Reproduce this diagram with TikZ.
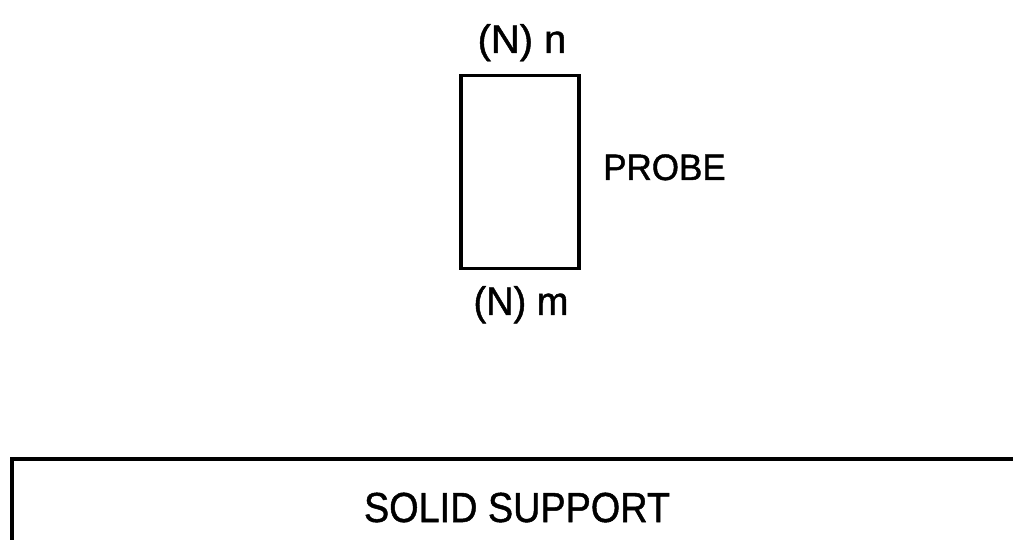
\documentclass[tikz,border=0pt]{standalone}
\usepackage{fontspec}
\setmainfont[FakeBold=1.2]{Liberation Sans}
\begin{document}
\begin{tikzpicture}[x=1pt,y=-1pt,
  lbl/.style={inner sep=0pt, anchor=base},
  boxline/.style={draw=black, line width=3.5pt}]
\useasboundingbox (0,0) rectangle (1013,540);
% probe
\node[boxline, minimum width=118pt, minimum height=193pt, inner sep=0pt, anchor=north west] (probe) at (459,74) {};
\node[lbl, xscale=1.05, yscale=1.05] (top) at (522,53) {\fontsize{38}{44}\selectfont (N) n};
\node[lbl, xscale=1.0, yscale=1.05] (bot) at (521,315) {\fontsize{38}{44}\selectfont (N) m};
\node[lbl, anchor=base west, yscale=1.05] (plabel) at (603,180) {\fontsize{35}{40}\selectfont PROBE};
% solid support
\coordinate (s1) at (12,540);
\coordinate (s2) at (12,459);
\coordinate (s3) at (1013,459);
\draw[line width=4pt] (s1) -- (s2) -- (s3);
\node[lbl, xscale=0.9] (support) at (517,522) {\fontsize{42}{48}\selectfont SOLID SUPPORT};
\end{tikzpicture}
\end{document}
